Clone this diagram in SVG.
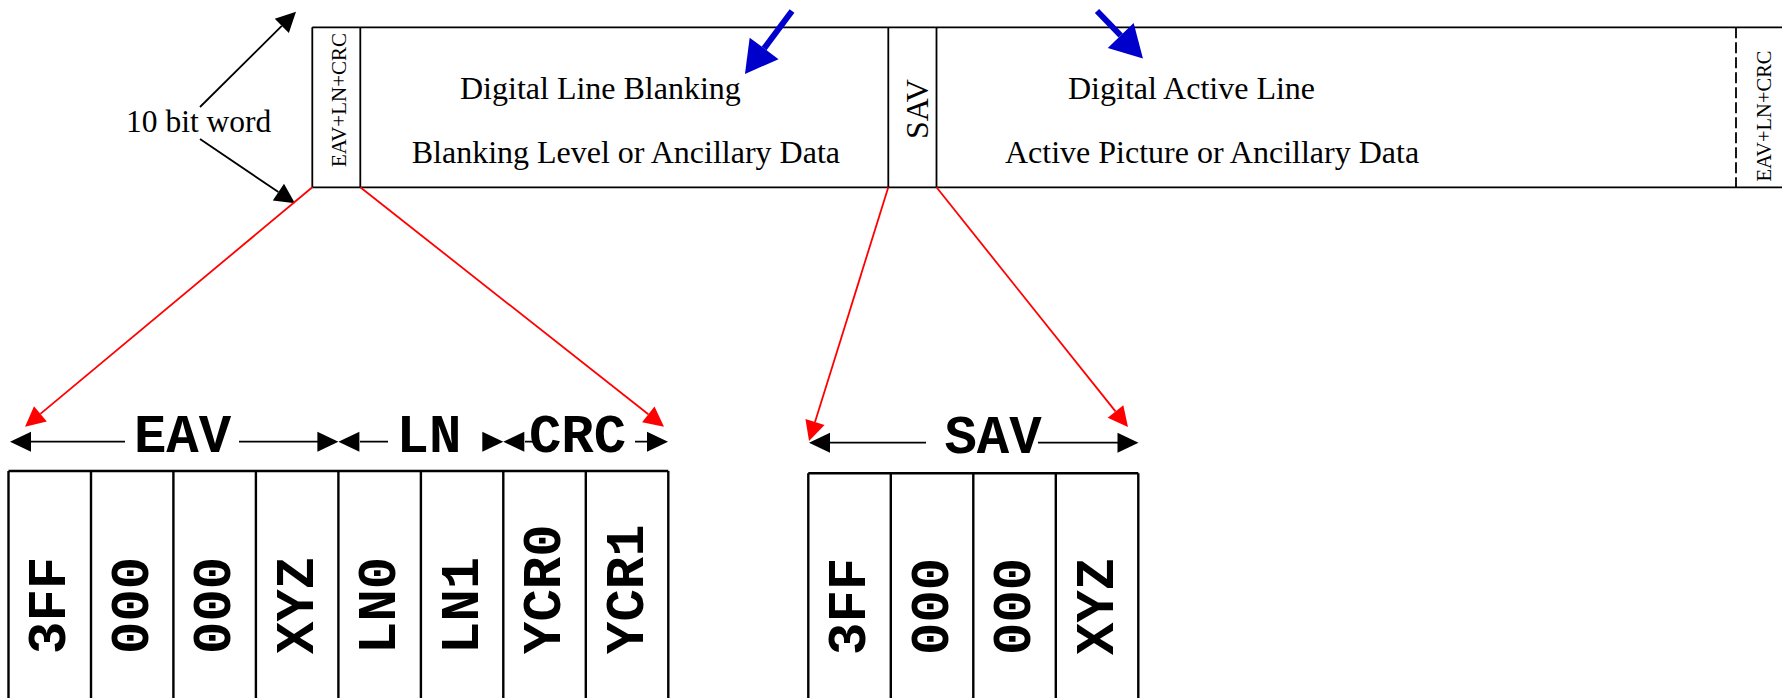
<svg xmlns="http://www.w3.org/2000/svg" xmlns:xlink="http://www.w3.org/1999/xlink" width="1782" height="698" viewBox="0 0 1782 698">
<style>
.serif{font-family:"Liberation Serif","Times New Roman",serif;fill:#000}
.mono{font-family:"Liberation Mono","Courier New",monospace;font-weight:bold;fill:#000}
.box{fill:none;stroke:#000;stroke-width:1.8}
.cell{fill:none;stroke:#000;stroke-width:2.4}
.blk{stroke:#000;stroke-width:1.8;fill:none}
.red{stroke:#ff0000;stroke-width:1.8;fill:none}
.blue{stroke:#0000cc;stroke-width:6;fill:none}
</style>
<defs>
<marker id="mBlk" markerUnits="userSpaceOnUse" viewBox="0 -12 22 24" refX="0" refY="0" markerWidth="22" markerHeight="24" orient="auto" overflow="visible"><path d="M0,-10 L20,0 L0,10 z" fill="#000"/></marker>
<marker id="mRed" markerUnits="userSpaceOnUse" viewBox="0 -12 22 24" refX="0" refY="0" markerWidth="22" markerHeight="24" orient="auto" overflow="visible"><path d="M0,-10 L20,0 L0,10 z" fill="#ff0000"/></marker>
<marker id="mBlue" markerUnits="userSpaceOnUse" viewBox="0 -19 34 38" refX="0" refY="0" markerWidth="34" markerHeight="38" orient="auto" overflow="visible"><path d="M0,-18 L32,0 L0,18 z" fill="#0000cc"/></marker>
<path id="ahR" d="M0,0 L-21,-10 L-21,10 z" fill="#000"/>
<path id="ahL" d="M0,0 L21,-10 L21,10 z" fill="#000"/>
</defs>
<rect width="1782" height="698" fill="#fff"/>

<g id="line-strip">
<path class="box" d="M312.3,27.3 H1782 M312.3,187.3 H1782 M312.3,27.3 V187.3"/>
</g>
<g id="node-eav-ln-crc">
<path class="box" d="M360.3,27.3 V187.3"/>
<text class="serif" font-size="21" text-anchor="middle" transform="translate(346,100) rotate(-90)">EAV+LN+CRC</text>
</g>
<g id="node-blanking">
<text class="serif" font-size="32" x="460" y="99.3">Digital Line Blanking</text>
<text class="serif" font-size="32" x="411.7" y="163.3">Blanking Level or Ancillary Data</text>
</g>
<g id="node-sav">
<path class="box" d="M888.3,27.3 V187.3 M936.5,27.3 V187.3"/>
<text class="serif" font-size="32" text-anchor="middle" transform="translate(928,109) rotate(-90)">SAV</text>
</g>
<g id="node-active">
<text class="serif" font-size="32" x="1068" y="99.3">Digital Active Line</text>
<text class="serif" font-size="32" x="1005" y="163.3">Active Picture or Ancillary Data</text>
</g>
<g id="node-eav-ln-crc-next">
<path class="box" d="M1736,27.3 V187.3" stroke-dasharray="11 4"/>
<text class="serif" font-size="20.5" text-anchor="middle" transform="translate(1771,116) rotate(-90)">EAV+LN+CRC</text>
</g>
<g id="node-word-label">
<text class="serif" font-size="31.5" x="126" y="132">10 bit word</text>
</g>

<g id="node-eav-words">
<path class="cell" d="M8.5,471 H668.3 M8.5,471 V700 M91,471 V700 M173.4,471 V700 M255.9,471 V700 M338.4,471 V700 M420.9,471 V700 M503.3,471 V700 M585.8,471 V700 M668.3,471 V700"/>
<g class="mono" font-size="54">
<text transform="translate(65.2,654) rotate(-90)">3FF</text>
<text transform="translate(147.7,654) rotate(-90)">000</text>
<text transform="translate(230.2,654) rotate(-90)">000</text>
<text transform="translate(312.6,654) rotate(-90)">XYZ</text>
<text transform="translate(395.1,654) rotate(-90)">LN0</text>
<text transform="translate(477.6,654) rotate(-90)">LN1</text>
<text transform="translate(560,654) rotate(-90)">YCR0</text>
<text transform="translate(642.5,654) rotate(-90)">YCR1</text>
</g>
</g>
<g id="node-sav-words">
<path class="cell" d="M808.3,473.3 H1138.3 M808.3,473.3 V700 M890.8,473.3 V700 M973.3,473.3 V700 M1055.8,473.3 V700 M1138.3,473.3 V700"/>
<g class="mono" font-size="54">
<text transform="translate(865,655) rotate(-90)">3FF</text>
<text transform="translate(947.5,655) rotate(-90)">000</text>
<text transform="translate(1030,655) rotate(-90)">000</text>
<text transform="translate(1112.5,655) rotate(-90)">XYZ</text>
</g>
</g>

<g id="node-eav-span">
<text class="mono" font-size="54" x="182.5" y="451.7" text-anchor="middle">EAV</text>
<text class="mono" font-size="54" x="429" y="451.7" text-anchor="middle">LN</text>
<text class="mono" font-size="54" x="577.5" y="451.7" text-anchor="middle">CRC</text>
<path class="blk" d="M30,441.7 H125 M239,441.7 H318 M360,441.7 H388 M525,441.7 H533 M635,441.7 H647"/>
<use xlink:href="#ahL" x="10" y="441.7"/>
<use xlink:href="#ahR" x="338.4" y="441.7"/>
<use xlink:href="#ahL" x="338.4" y="441.7"/>
<use xlink:href="#ahR" x="503.3" y="441.7"/>
<use xlink:href="#ahL" x="503.3" y="441.7"/>
<use xlink:href="#ahR" x="668" y="441.7"/>
</g>
<g id="node-sav-span">
<text class="mono" font-size="54" x="993" y="452.5" text-anchor="middle">SAV</text>
<path class="blk" d="M830,442.7 H926 M1038,442.7 H1118"/>
<use xlink:href="#ahL" x="809" y="442.7"/>
<use xlink:href="#ahR" x="1138.5" y="442.7"/>
</g>

<g id="connectors">
<line class="blk" x1="200" y1="107" x2="281.8" y2="25.8" marker-end="url(#mBlk)"/>
<line class="blk" x1="200" y1="139" x2="278.4" y2="192.1" marker-end="url(#mBlk)"/>
<line class="red" x1="312.3" y1="187.3" x2="40.4" y2="413.9" marker-end="url(#mRed)"/>
<line class="red" x1="360.3" y1="187.3" x2="648.3" y2="414.3" marker-end="url(#mRed)"/>
<line class="red" x1="888.3" y1="187.3" x2="815" y2="421.9" marker-end="url(#mRed)"/>
<line class="red" x1="936.5" y1="187.3" x2="1115.5" y2="411.4" marker-end="url(#mRed)"/>
<line class="blue" x1="792" y1="11" x2="764.1" y2="48.4" marker-end="url(#mBlue)"/>
<line class="blue" x1="1097" y1="11" x2="1120.7" y2="35.5" marker-end="url(#mBlue)"/>
</g>
</svg>
